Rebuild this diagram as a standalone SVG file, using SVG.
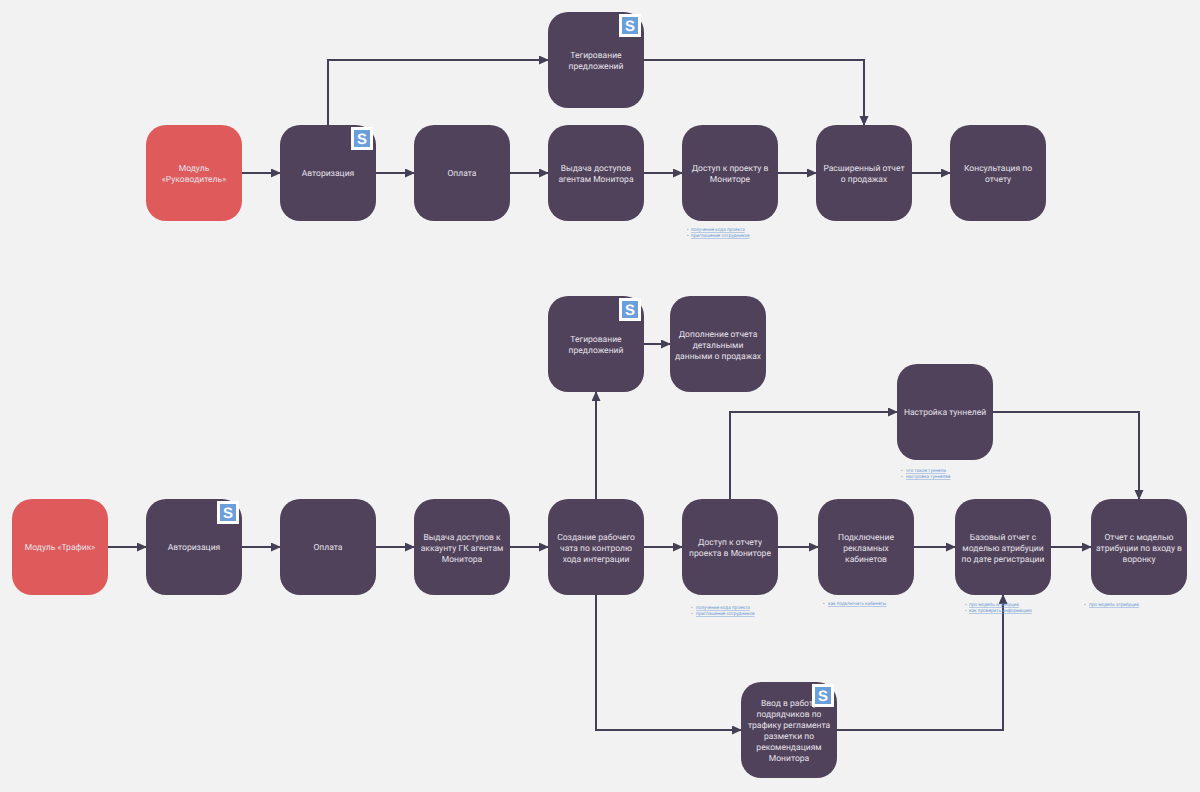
<svg xmlns="http://www.w3.org/2000/svg" width="1200" height="792" viewBox="0 0 1200 792">
<defs>
<style>
text{font-family:"Roboto","Noto Sans","Liberation Sans",sans-serif;text-rendering:geometricPrecision}
.n{fill:#50425a}
.r{fill:#df5b5b}
.t{fill:#e6e1ea;font-size:8.5px;letter-spacing:0.02px;text-anchor:middle}
.c{fill:none;stroke:#453f56;stroke-width:2}
.w{fill:#fff}
.b{fill:#6a9fda}
.s{fill:#fff;font-size:15px;font-weight:700;text-anchor:middle;font-family:"Liberation Sans",sans-serif}
.l{fill:#6f9ad4;font-size:4.7px;text-decoration:underline}
.d{fill:#6b7280;font-size:4.7px}
</style>
<marker id="a" markerWidth="11" markerHeight="10" refX="9" refY="4.5" orient="auto" markerUnits="userSpaceOnUse"><path d="M0 0L10 4.5L0 9Z" fill="#453f56"/></marker>
<g id="sicon"><rect class="w" x="0" y="0" width="22" height="23"/><rect class="b" x="3" y="3" width="16" height="17"/><text class="s" x="11" y="17">S</text></g>
</defs>
<rect width="1200" height="792" fill="#f2f2f2"/>
<g id="connectors">
<path class="c" marker-end="url(#a)" d="M242 173H280"/>
<path class="c" marker-end="url(#a)" d="M376 173H414"/>
<path class="c" marker-end="url(#a)" d="M510 173H548"/>
<path class="c" marker-end="url(#a)" d="M644 173H682"/>
<path class="c" marker-end="url(#a)" d="M778 173H816"/>
<path class="c" marker-end="url(#a)" d="M912 173H950"/>
<path class="c" marker-end="url(#a)" d="M328 125V60H548"/>
<path class="c" marker-end="url(#a)" d="M644 60H864V125"/>
<path class="c" marker-end="url(#a)" d="M108 547H146"/>
<path class="c" marker-end="url(#a)" d="M242 547H280"/>
<path class="c" marker-end="url(#a)" d="M376 547H414"/>
<path class="c" marker-end="url(#a)" d="M510 547H548"/>
<path class="c" marker-end="url(#a)" d="M644 547H682"/>
<path class="c" marker-end="url(#a)" d="M778 547H818"/>
<path class="c" marker-end="url(#a)" d="M914 547H955"/>
<path class="c" marker-end="url(#a)" d="M1051 547H1091"/>
<path class="c" marker-end="url(#a)" d="M596 499V392"/>
<path class="c" marker-end="url(#a)" d="M644 344H670"/>
<path class="c" marker-end="url(#a)" d="M730 499V412H897"/>
<path class="c" marker-end="url(#a)" d="M993 412H1139V499"/>
<path class="c" marker-end="url(#a)" d="M596 595V730H741"/>
<path class="c" marker-end="url(#a)" d="M837 730H1003V595"/>
</g>
<g id="n1"><rect class="r" x="146" y="125" width="96" height="96" rx="20"/><text class="t" x="194" y="171">Модуль</text><text class="t" x="194" y="182">«Руководитель»</text></g>
<g id="n2"><rect class="n" x="280" y="125" width="96" height="96" rx="20"/><text class="t" x="328" y="176">Авторизация</text><use href="#sicon" x="351" y="127"/></g>
<g id="n3"><rect class="n" x="414" y="125" width="96" height="96" rx="20"/><text class="t" x="462" y="176">Оплата</text></g>
<g id="n4"><rect class="n" x="548" y="125" width="96" height="96" rx="20"/><text class="t" x="596" y="171">Выдача доступов</text><text class="t" x="596" y="182">агентам Монитора</text></g>
<g id="n5"><rect class="n" x="682" y="125" width="96" height="96" rx="20"/><text class="t" x="730" y="171">Доступ к проекту в</text><text class="t" x="730" y="182">Мониторе</text></g>
<g id="n6"><rect class="n" x="816" y="125" width="96" height="96" rx="20"/><text class="t" x="864" y="171">Расширенный отчет</text><text class="t" x="864" y="182">о продажах</text></g>
<g id="n7"><rect class="n" x="950" y="125" width="96" height="96" rx="20"/><text class="t" x="998" y="171">Консультация по</text><text class="t" x="998" y="182">отчету</text></g>
<g id="n8"><rect class="n" x="548" y="12" width="96" height="96" rx="20"/><text class="t" x="596" y="58">Тегирование</text><text class="t" x="596" y="69">предложений</text><use href="#sicon" x="619" y="14"/></g>
<g id="links1"><text class="d" x="687" y="231">•</text><text class="l" x="691" y="231">получение кода проекта</text><text class="d" x="687" y="237">•</text><text class="l" x="691" y="237">приглашение сотрудников</text></g>
<g id="n9"><rect class="r" x="12" y="499" width="96" height="96" rx="20"/><text class="t" x="60" y="550">Модуль «Трафик»</text></g>
<g id="n10"><rect class="n" x="146" y="499" width="96" height="96" rx="20"/><text class="t" x="194" y="550">Авторизация</text><use href="#sicon" x="217" y="501"/></g>
<g id="n11"><rect class="n" x="280" y="499" width="96" height="96" rx="20"/><text class="t" x="328" y="550">Оплата</text></g>
<g id="n12"><rect class="n" x="414" y="499" width="96" height="96" rx="20"/><text class="t" x="462" y="540">Выдача доступов к</text><text class="t" x="462" y="551">аккаунту ГК агентам</text><text class="t" x="462" y="562">Монитора</text></g>
<g id="n13"><rect class="n" x="548" y="499" width="96" height="96" rx="20"/><text class="t" x="596" y="540">Создание рабочего</text><text class="t" x="596" y="551">чата по контролю</text><text class="t" x="596" y="562">хода интеграции</text></g>
<g id="n14"><rect class="n" x="682" y="499" width="96" height="96" rx="20"/><text class="t" x="730" y="545">Доступ к отчету</text><text class="t" x="730" y="556">проекта в Мониторе</text></g>
<g id="n15"><rect class="n" x="818" y="499" width="96" height="96" rx="20"/><text class="t" x="866" y="540">Подключение</text><text class="t" x="866" y="551">рекламных</text><text class="t" x="866" y="562">кабинетов</text></g>
<g id="n16"><rect class="n" x="955" y="499" width="96" height="96" rx="20"/><text class="t" x="1003" y="540">Базовый отчет с</text><text class="t" x="1003" y="551">моделью атрибуции</text><text class="t" x="1003" y="562">по дате регистрации</text></g>
<g id="n17"><rect class="n" x="1091" y="499" width="96" height="96" rx="20"/><text class="t" x="1139" y="540">Отчет с моделью</text><text class="t" x="1139" y="551">атрибуции по входу в</text><text class="t" x="1139" y="562">воронку</text></g>
<g id="n18"><rect class="n" x="548" y="296" width="96" height="96" rx="20"/><text class="t" x="596" y="342">Тегирование</text><text class="t" x="596" y="353">предложений</text><use href="#sicon" x="619" y="298"/></g>
<g id="n19"><rect class="n" x="670" y="296" width="96" height="96" rx="20"/><text class="t" x="718" y="337">Дополнение отчета</text><text class="t" x="718" y="348">детальными</text><text class="t" x="718" y="359">данными о продажах</text></g>
<g id="n20"><rect class="n" x="897" y="364" width="96" height="96" rx="20"/><text class="t" x="945" y="415">Настройка туннелей</text></g>
<g id="n21"><rect class="n" x="741" y="682" width="96" height="96" rx="20"/><text class="t" x="789" y="706">Ввод в работу</text><text class="t" x="789" y="717">подрядчиков по</text><text class="t" x="789" y="728">трафику регламента</text><text class="t" x="789" y="739">разметки по</text><text class="t" x="789" y="750">рекомендациям</text><text class="t" x="789" y="761">Монитора</text><use href="#sicon" x="812" y="684"/></g>
<g id="links2"><text class="d" x="901" y="472">•</text><text class="l" x="906" y="472">что такое туннели</text><text class="d" x="901" y="478">•</text><text class="l" x="906" y="478">настройка туннелей</text></g>
<g id="links3"><text class="d" x="691" y="609">•</text><text class="l" x="696" y="609">получение кода проекта</text><text class="d" x="691" y="615">•</text><text class="l" x="696" y="615">приглашение сотрудников</text></g>
<g id="links4"><text class="d" x="823" y="605">•</text><text class="l" x="828" y="605">как подключить кабинеты</text></g>
<g id="links5"><text class="d" x="965" y="606">•</text><text class="l" x="969" y="606">про модель атрибуции</text><text class="d" x="965" y="612">•</text><text class="l" x="969" y="612">как проверить информацию</text></g>
<g id="links6"><text class="d" x="1084" y="606">•</text><text class="l" x="1089" y="606">про модель атрибуции</text></g>
</svg>
